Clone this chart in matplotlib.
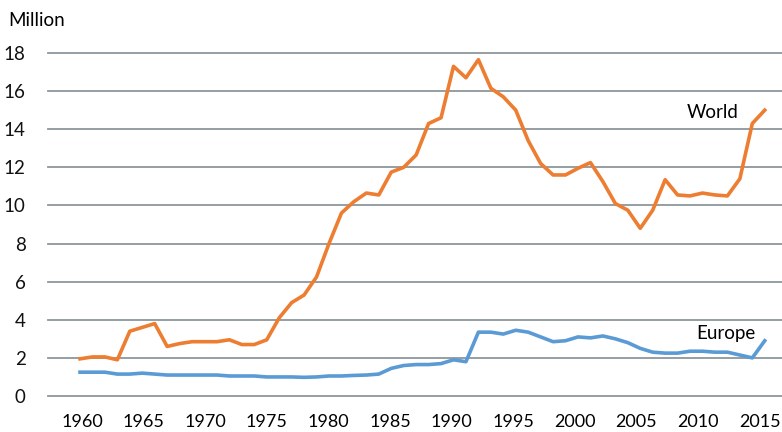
import matplotlib.pyplot as plt
import numpy as np
from matplotlib.transforms import ScaledTranslation

plt.rcParams['font.family'] = ['Lato', 'DejaVu Sans']

years = np.arange(1960, 2016)
world = [1.95, 2.05, 2.05, 1.9, 3.4, 3.6, 3.8, 2.6, 2.75, 2.85,
         2.85, 2.85, 2.95, 2.7, 2.7, 2.95, 4.1, 4.9, 5.3, 6.25,
         8.0, 9.6, 10.2, 10.65, 10.55, 11.75, 12.0, 12.65, 14.3, 14.6,
         17.3, 16.7, 17.65, 16.15, 15.7, 15.0, 13.4, 12.2, 11.6, 11.6,
         11.95, 12.25, 11.25, 10.1, 9.75, 8.8, 9.75, 11.35, 10.55, 10.5,
         10.65, 10.55, 10.5, 11.4, 14.3, 15.0]
europe = [1.25, 1.25, 1.25, 1.15, 1.15, 1.2, 1.15, 1.1, 1.1, 1.1,
          1.1, 1.1, 1.05, 1.05, 1.05, 1.0, 1.0, 1.0, 0.98, 1.0,
          1.05, 1.05, 1.08, 1.1, 1.15, 1.45, 1.6, 1.65, 1.65, 1.7,
          1.9, 1.8, 3.35, 3.35, 3.25, 3.45, 3.35, 3.1, 2.85, 2.9,
          3.1, 3.05, 3.15, 3.0, 2.8, 2.5, 2.3, 2.25, 2.25, 2.35,
          2.35, 2.3, 2.3, 2.15, 2.0, 2.9]
yticks = np.arange(0, 19, 2)
xticks = np.arange(1960, 2016, 5)

fig = plt.figure(figsize=(7.82, 4.32), dpi=100)
ax = fig.add_axes([48 / 782, 36 / 432, 1 - 48 / 782, 343 / 432])

ax.plot(years, world, color='#ED7D31', lw=2.6, solid_joinstyle='round', zorder=3)
ax.plot(years, europe, color='#5B9BD5', lw=2.6, solid_joinstyle='round', zorder=3)

ax.set_ylim(0, 18)
ax.set_xlim(1960 - 32 / 12.45, 1960 + 702 / 12.45)
ax.set_yticks(yticks)
ax.set_xticks(xticks)
ax.grid(axis='y', color='#8C969C', lw=1.3, clip_on=False)
ax.set_axisbelow(True)
for s in ax.spines.values():
    s.set_visible(False)
ax.tick_params(axis='y', length=0, pad=16, labelsize=13.5)
ax.tick_params(axis='x', length=0, pad=13, labelsize=13)
for lab in ax.get_yticklabels():
    lab.set_color('#111111')
# labels in the reference sit a little left of their data positions
for lab, yr in zip(ax.get_xticklabels(), xticks):
    lab.set_transform(lab.get_transform() +
                      ScaledTranslation(-(yr - 1960) * 0.0013 + 0.02, 0, fig.dpi_scale_trans))

ax.text(2008.7, 14.9, 'World', fontsize=13.5, va='center', ha='left')
ax.text(2009.5, 3.3, 'Europe', fontsize=13.5, va='center', ha='left')
fig.text(8 / 782, 1 - 20 / 432, 'Million', fontsize=13.5, va='center', ha='left')

fig.savefig('out.png', dpi=100)
